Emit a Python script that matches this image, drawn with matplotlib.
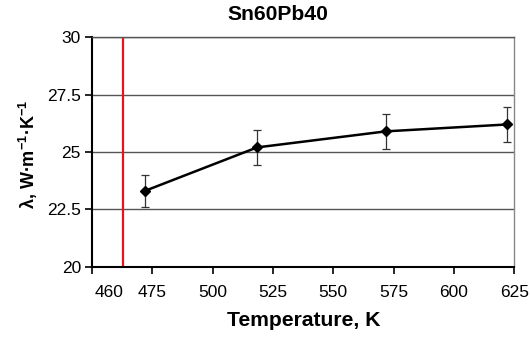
import matplotlib
matplotlib.use("Agg")
import matplotlib.pyplot as plt

temps = [471.8, 518.4, 571.8, 621.9]
conductivity = [23.3, 25.2, 25.9, 26.2]
errors = [0.7, 0.75, 0.75, 0.78]
melt_temp = 463
x_ticks = [450, 475, 500, 525, 550, 575, 600, 625]
x_tick_labels = ["", "475", "500", "525", "550", "575", "600", "625"]
extra_label = "460"
extra_label_pos = 457
y_ticks = [20, 22.5, 25, 27.5, 30]
y_tick_labels = ["20", "22.5", "25", "27.5", "30"]

plt.rcParams['font.family'] = ['Liberation Sans', 'DejaVu Sans']
plt.rcParams['mathtext.fontset'] = 'custom'
plt.rcParams['mathtext.rm'] = 'Liberation Sans:bold'
plt.rcParams['mathtext.it'] = 'Liberation Sans:bold'
plt.rcParams['mathtext.bf'] = 'Liberation Sans:bold'

fig = plt.figure(figsize=(5.3, 3.38), dpi=100)
ax = fig.add_axes([92/530, 1-266.7/338, (514.3-92)/530, (266.7-37.3)/338])

ax.set_xlim(450, 625)
ax.set_ylim(20, 30)

for yv in y_ticks[1:]:
    ax.axhline(yv, color='#555555', lw=1.0, zorder=1)

ax.plot([melt_temp, melt_temp], [20, 30], color='#e8141c', lw=1.6, zorder=2)

ax.errorbar(temps, conductivity, yerr=errors, fmt='-', color='black', lw=1.8,
            ecolor='#333333', elinewidth=0.9, capsize=3, capthick=0.9, zorder=3)
ax.plot(temps, conductivity, linestyle='none', marker='D', color='black', markersize=5.5, zorder=4)

ax.set_xticks(x_ticks)
ax.set_xticklabels(x_tick_labels)
ax.set_yticks(y_ticks)
ax.set_yticklabels(y_tick_labels)
ax.tick_params(axis='both', labelsize=12.5, direction='out', length=5, width=1.2, color='black')
ax.tick_params(axis='x', pad=8)
ax.tick_params(axis='y', pad=3)
ax.annotate(extra_label, xy=(extra_label_pos, 0), xycoords=('data', 'axes fraction'), xytext=(0, -13.2),
            textcoords='offset points', ha='center', va='top', fontsize=12.5)

for s in ['left', 'bottom']:
    ax.spines[s].set_color('black')
    ax.spines[s].set_linewidth(1.5)
ax.spines['right'].set_color('#888888')
ax.spines['right'].set_linewidth(1.0)
ax.spines['top'].set_color('#555555')
ax.spines['top'].set_linewidth(1.0)

fig.text(278/530, 1-14.5/338, "Sn60Pb40", ha='center', va='center', fontsize=15.2, fontweight='bold')
fig.text(304/530, 1-321/338, "Temperature, K", ha='center', va='center', fontsize=15.2, fontweight='bold')
fig.text(28/530, 1-154/338, r"λ, W·m$^{-1}$·K$^{-1}$", ha='center', va='center', fontsize=13,
         fontweight='bold', rotation=90)

fig.savefig("out.png", dpi=100)
